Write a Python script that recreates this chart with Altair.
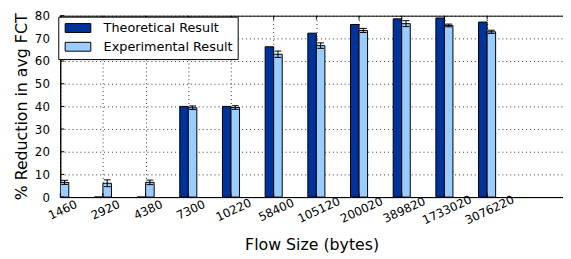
import altair as alt
import pandas as pd

categories = ["1460", "2920", "4380", "7300", "10220", "58400", "105120",
              "200020", "389820", "1733020", "3076220"]
theoretical = [0, 0, 0, 40.0, 40.0, 66.3, 72.3, 76.1, 78.6, 79.0, 77.2]
experimental = [6.5, 6.1, 6.5, 39.4, 39.5, 63.0, 66.8, 73.5, 76.5, 75.7, 72.9]
experimental_err = [0.9, 1.5, 1.0, 0.8, 0.8, 1.4, 1.2, 0.9, 1.3, 0.6, 0.7]
series_names = ["Theoretical Result", "Experimental Result"]
series_colors = ["#003399", "#99CCFF"]
y_ticks = [0, 10, 20, 30, 40, 50, 60, 70, 80]

FONT = "DejaVu Sans"
BAR_W = 0.2
CAP = 0.08
W, H = 510, 184
XMAX = 510 / 43.3
XTITLE = "Flow Size (bytes)"
YTITLE = "% Reduction in avg FCT"

rows = []
for i, c in enumerate(categories):
    rows.append(dict(series=series_names[0], cat=c, x0=i - BAR_W, x1=i, value=theoretical[i]))
    rows.append(dict(series=series_names[1], cat=c, x0=i, x1=i + BAR_W, value=experimental[i]))
bars_df = pd.DataFrame(rows)

err_df = pd.DataFrame(dict(
    xc=[i + BAR_W / 2 for i in range(len(categories))],
    lo=[v - e for v, e in zip(experimental, experimental_err)],
    hi=[v + e for v, e in zip(experimental, experimental_err)],
))
cap_rows = []
for i in range(len(categories)):
    for yv in (experimental[i] - experimental_err[i], experimental[i] + experimental_err[i]):
        cap_rows.append(dict(xa=i + BAR_W / 2 - CAP, xb=i + BAR_W / 2 + CAP, y=yv))
cap_df = pd.DataFrame(cap_rows)
xtick_df = pd.DataFrame(dict(idx=list(range(len(categories)))))
ytick_df = pd.DataFrame(dict(v=y_ticks))

xscale = alt.Scale(domain=[0, XMAX], nice=False, zero=False)
yscale = alt.Scale(domain=[0, 80], nice=False)

label_arr = "[" + ",".join("'%s'" % c for c in categories) + "]"

x_axis = alt.Axis(values=list(range(len(categories))),
                  labelExpr=label_arr + "[datum.value]",
                  labelAngle=335, labelAlign="center", labelBaseline="top",
                  labelOverlap=False, labelBound=False,
                  labelPadding=8, titlePadding=11)
y_axis = alt.Axis(values=y_ticks, labelOverlap=False, labelPadding=11, titlePadding=5)

# legend swatch: 26x9 px rectangle, left edge at the symbol's layout start
SYM = "M-1,-1L4.78,-1L4.78,1L-1,1Z"

bars = alt.Chart(bars_df).mark_bar(stroke="black", strokeWidth=1, clip=True).encode(
    x=alt.X("x0:Q", scale=xscale, title=XTITLE, axis=x_axis),
    x2="x1:Q",
    y=alt.Y("value:Q", scale=yscale, title=YTITLE, axis=y_axis),
    y2=alt.datum(0),
    color=alt.Color("series:N", scale=alt.Scale(domain=series_names, range=series_colors),
                    sort=series_names, title=None,
                    legend=alt.Legend(orient="none", legendX=-2, legendY=1,
                                      symbolType=SYM,
                                      symbolSize=81, symbolStrokeColor="black",
                                      symbolStrokeWidth=1, symbolOpacity=1,
                                      labelFont=FONT, labelFontSize=13, labelColor="black",
                                      labelOffset=28, rowPadding=5, padding=5,
                                      strokeColor="black", fillColor="white",
                                      cornerRadius=0)),
)

err = alt.Chart(err_df).mark_rule(color="black", strokeWidth=1).encode(
    x=alt.X("xc:Q", scale=xscale, title=XTITLE, axis=x_axis),
    y=alt.Y("lo:Q", scale=yscale, title=YTITLE, axis=y_axis),
    y2="hi:Q",
)
caps = alt.Chart(cap_df).mark_rule(color="black", strokeWidth=1).encode(
    x=alt.X("xa:Q", scale=xscale, title=XTITLE, axis=x_axis),
    x2="xb:Q",
    y=alt.Y("y:Q", scale=yscale, title=YTITLE, axis=y_axis),
)
xt_bottom = alt.Chart(xtick_df).mark_rule(color="black", strokeWidth=1).encode(
    x=alt.X("idx:Q", scale=xscale, title=XTITLE, axis=x_axis),
    y=alt.value(H), y2=alt.value(H - 4),
)
xt_top = alt.Chart(xtick_df).mark_rule(color="black", strokeWidth=1).encode(
    x=alt.X("idx:Q", scale=xscale, title=XTITLE, axis=x_axis),
    y=alt.value(0), y2=alt.value(4),
)
yt_left = alt.Chart(ytick_df).mark_rule(color="black", strokeWidth=1).encode(
    y=alt.Y("v:Q", scale=yscale, title=YTITLE, axis=y_axis),
    x=alt.value(0), x2=alt.value(4),
)

chart = alt.layer(bars, err, caps, xt_bottom, xt_top, yt_left).properties(
    width=W, height=H,
    autosize=alt.AutoSizeParams(type="none"),
    padding={"left": 53, "top": 6, "right": 0, "bottom": 61},
).configure_view(stroke="black", strokeWidth=1).configure_axis(
    domainColor="black", domainWidth=1, tickSize=0,
    grid=True, gridColor="black", gridDash=[1, 3], gridWidth=1, gridOpacity=0.8,
    labelFont=FONT, labelFontSize=12, labelColor="black",
    titleFont=FONT, titleFontSize=16, titleFontWeight="normal", titleColor="black",
)

chart.save("out.html", embed_options={"renderer": "svg", "actions": False})
